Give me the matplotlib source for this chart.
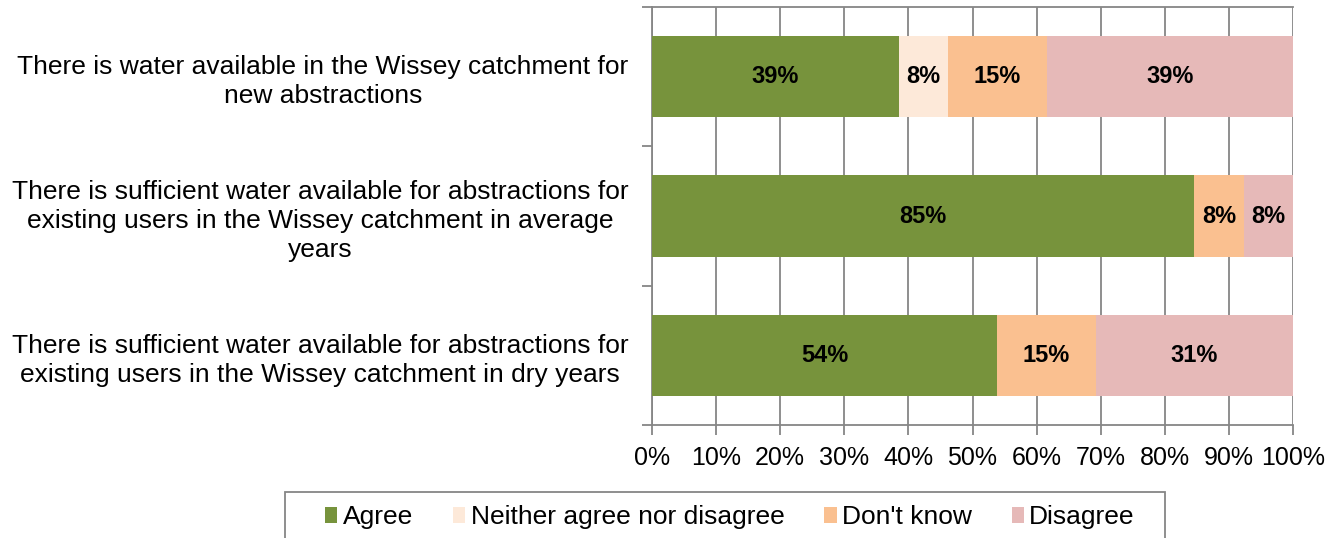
import matplotlib
import matplotlib.pyplot as plt
from matplotlib.patches import Rectangle
import numpy as np

CATEGORIES = [
    "There is water available in the Wissey catchment for\nnew abstractions",
    "There is sufficient water available for abstractions for\nexisting users in the Wissey catchment in average\nyears",
    "There is sufficient water available for abstractions for\nexisting users in the Wissey catchment in dry years",
]

SERIES_NAMES = ["Agree", "Neither agree nor disagree", "Don't know", "Disagree"]
AGREE = [38.5, 84.6, 53.8]
NEITHER = [7.7, 0.0, 0.0]
DONT_KNOW = [15.4, 7.7, 15.4]
DISAGREE = [38.5, 7.7, 30.8]
COLORS = ["#77933C", "#FDE9D9", "#FAC090", "#E6B9B8"]

X_TICKS = list(range(0, 101, 10))

matplotlib.rcParams['font.family'] = ['Liberation Sans', 'DejaVu Sans']

fig = plt.figure(figsize=(13.4, 5.38), dpi=100)
ax = fig.add_axes([652 / 1340, 1 - 425 / 538, (1293 - 652) / 1340, (425 - 7) / 538])

series = [AGREE, NEITHER, DONT_KNOW, DISAGREE]
y = np.arange(len(CATEGORIES))
left = np.zeros(len(CATEGORIES))
for name, vals, col in zip(SERIES_NAMES, series, COLORS):
    vals = np.array(vals)
    bars = ax.barh(y, vals, left=left, height=0.585, color=col, label=name, zorder=3)
    for b, v, l in zip(bars, vals, left):
        if v > 0:
            ax.text(l + v / 2, b.get_y() + b.get_height() / 2, "%d%%" % int(v + 0.5),
                    ha='center', va='center', fontsize=17, fontweight='bold', zorder=4)
    left = left + vals

ax.set_xlim(0, 100)
ax.set_ylim(2.5, -0.5)
ax.set_xticks(X_TICKS)
ax.set_xticklabels(["%d%%" % t for t in X_TICKS], fontsize=18)
ax.set_yticks(y)
ax.set_yticklabels(CATEGORIES, fontsize=19, multialignment='center', linespacing=1.25)
ax.set_yticks([-0.5, 0.5, 1.5, 2.5], minor=True)
ax.tick_params(axis='y', which='major', length=0, pad=17)
ax.tick_params(axis='y', which='minor', length=7, color='#868686', width=1.3)
ax.tick_params(axis='x', length=7, color='#868686', width=1.3, pad=8)
ax.grid(axis='x', color='#868686', linewidth=1.3, zorder=0)
for s in ['left', 'bottom', 'top']:
    ax.spines[s].set_color('#868686')
    ax.spines[s].set_linewidth(1.3)
ax.spines['right'].set_visible(False)

# legend: items centred in a box that runs off the bottom edge
leg = fig.legend(loc='center', bbox_to_anchor=(730 / 1340, 1 - 517 / 538), ncol=4,
                 fontsize=19, frameon=False,
                 handlelength=0.46, handleheight=0.55, handletextpad=0.2, columnspacing=1.52,
                 borderpad=0, borderaxespad=0)
fig.patches.append(Rectangle((285 / 1340, -0.05), (1165 - 285) / 1340, 1.05 - 492 / 538,
                             transform=fig.transFigure, fill=False,
                             edgecolor='#868686', linewidth=1.3))

plt.savefig("out.png", dpi=100)
